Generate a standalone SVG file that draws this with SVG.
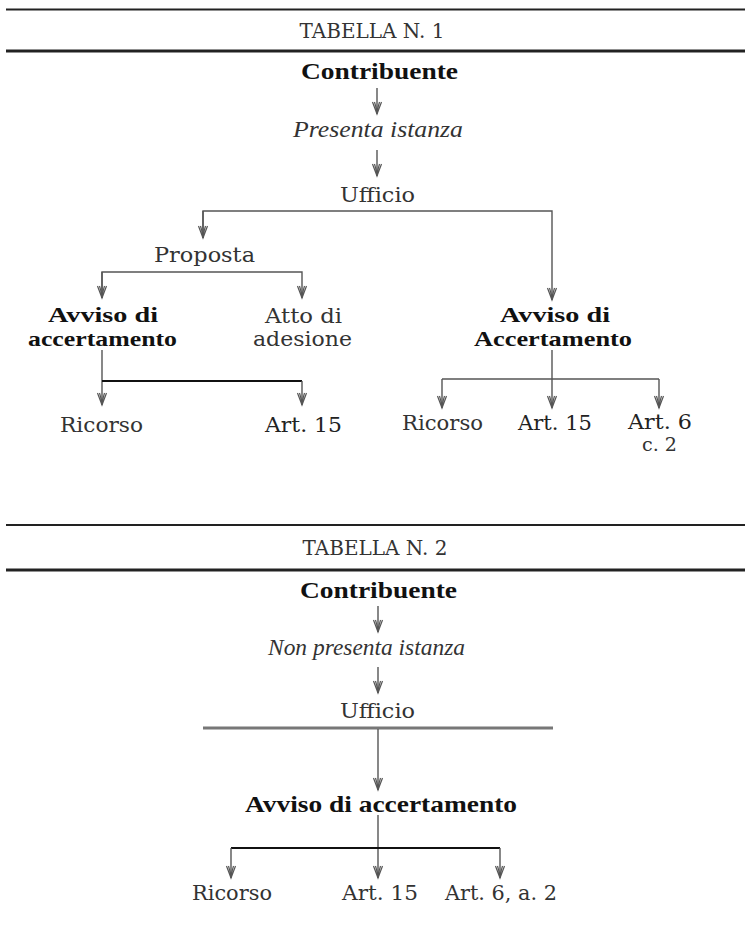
<svg xmlns="http://www.w3.org/2000/svg" width="745" height="931" viewBox="0 0 745 931">
<style>
.t{font-family:"DejaVu Serif","Liberation Serif",serif;font-size:21px;fill:#333;}
.b{font-family:"Liberation Serif","DejaVu Serif",serif;font-size:24px;font-weight:bold;fill:#111;}
.b2{font-family:"Liberation Serif","DejaVu Serif",serif;font-size:21px;font-weight:bold;fill:#111;}
.i{font-family:"Liberation Serif","DejaVu Serif",serif;font-size:23px;font-style:italic;fill:#333;}
.h{font-family:"DejaVu Serif","Liberation Serif",serif;font-size:21px;fill:#333;}
.s{font-family:"DejaVu Serif","Liberation Serif",serif;font-size:19px;fill:#333;}
.c{fill:none;stroke:#555;stroke-width:1.4;}
.k{fill:none;stroke:#111;stroke-width:2.2;}
.rule1{stroke:#222;stroke-width:2;}
.rule2{stroke:#222;stroke-width:3.2;}
</style>
<defs>
<marker id="v" markerUnits="userSpaceOnUse" markerWidth="16" markerHeight="16" viewBox="-14 -7 16 14" refX="0" refY="0" orient="auto">
<path d="M-12,-4.5 L0,0 L-12,4.5 M-12,-2.5 L-3,0 L-12,2.5" fill="none" stroke="#555" stroke-width="1.2"/>
</marker>
</defs>
<rect width="745" height="931" fill="#fff"/>

<g id="table1-header">
<line class="rule1" x1="6" y1="9.5" x2="745" y2="9.5"/>
<text class="h" x="372" y="38" text-anchor="middle" textLength="145" lengthAdjust="spacingAndGlyphs">TABELLA N. 1</text>
<line class="rule2" x1="6" y1="51" x2="745" y2="51"/>
</g>

<g id="connectors1">
<line class="c" x1="377" y1="88" x2="377" y2="114" marker-end="url(#v)"/>
<line class="c" x1="377" y1="150" x2="377" y2="176" marker-end="url(#v)"/>
<polyline class="c" points="203,238 203,211 552,211 552,300" marker-end="url(#v)"/>
<line class="c" x1="203" y1="211" x2="203" y2="238" marker-end="url(#v)"/>
<polyline class="c" points="102,298 102,272 302,272 302,298" marker-end="url(#v)"/>
<line class="c" x1="102" y1="272" x2="102" y2="298" marker-end="url(#v)"/>
<line class="c" x1="102" y1="350" x2="102" y2="405" marker-end="url(#v)"/>
<line class="k" x1="102" y1="381" x2="302" y2="381"/>
<line class="c" x1="302" y1="381" x2="302" y2="405" marker-end="url(#v)"/>
<line class="c" x1="552" y1="350" x2="552" y2="408" marker-end="url(#v)"/>
<line class="c" x1="442" y1="379" x2="659" y2="379"/>
<line class="c" x1="442" y1="379" x2="442" y2="408" marker-end="url(#v)"/>
<line class="c" x1="659" y1="379" x2="659" y2="408" marker-end="url(#v)"/>
</g>

<g id="n-contribuente1"><text class="b" x="301" y="79" textLength="157" lengthAdjust="spacingAndGlyphs">Contribuente</text></g>
<g id="n-presenta"><text class="i" x="293" y="137" textLength="170" lengthAdjust="spacingAndGlyphs">Presenta istanza</text></g>
<g id="n-ufficio1"><text class="t" x="340" y="202" textLength="75" lengthAdjust="spacingAndGlyphs">Ufficio</text></g>
<g id="n-proposta"><text class="t" x="154" y="262" textLength="101" lengthAdjust="spacingAndGlyphs">Proposta</text></g>
<g id="n-avviso1a">
<text class="b2" x="48" y="322" textLength="110" lengthAdjust="spacingAndGlyphs">Avviso di</text>
<text class="b2" x="28" y="346" textLength="149" lengthAdjust="spacingAndGlyphs">accertamento</text>
</g>
<g id="n-atto">
<text class="t" x="265" y="323" textLength="77" lengthAdjust="spacingAndGlyphs">Atto di</text>
<text class="t" x="253" y="346" textLength="99" lengthAdjust="spacingAndGlyphs">adesione</text>
</g>
<g id="n-avviso1b">
<text class="b2" x="500" y="322" textLength="110" lengthAdjust="spacingAndGlyphs">Avviso di</text>
<text class="b2" x="474" y="346" textLength="158" lengthAdjust="spacingAndGlyphs">Accertamento</text>
</g>
<g id="n-ricorso1a"><text class="t" x="60" y="432" textLength="83" lengthAdjust="spacingAndGlyphs">Ricorso</text></g>
<g id="n-art15-1a"><text class="t" x="265" y="432" textLength="77" lengthAdjust="spacingAndGlyphs" style="fill:#222">Art. 15</text></g>
<g id="n-ricorso1b"><text class="t" x="402" y="430" textLength="81" lengthAdjust="spacingAndGlyphs">Ricorso</text></g>
<g id="n-art15-1b"><text class="t" x="518" y="430" textLength="74" lengthAdjust="spacingAndGlyphs" style="fill:#222">Art. 15</text></g>
<g id="n-art6-1">
<text class="t" x="628" y="429" textLength="64" lengthAdjust="spacingAndGlyphs" style="fill:#222">Art. 6</text>
<text class="s" x="642" y="451" textLength="35" lengthAdjust="spacingAndGlyphs">c. 2</text>
</g>

<g id="table2-header">
<line class="rule1" x1="6" y1="525" x2="745" y2="525"/>
<text class="h" x="375" y="555" text-anchor="middle" textLength="145" lengthAdjust="spacingAndGlyphs">TABELLA N. 2</text>
<line class="rule2" x1="6" y1="570" x2="745" y2="570"/>
</g>

<g id="connectors2">
<line class="c" x1="378" y1="606" x2="378" y2="632" marker-end="url(#v)"/>
<line class="c" x1="378" y1="667" x2="378" y2="693" marker-end="url(#v)"/>
<line x1="203" y1="728" x2="553" y2="728" stroke="#777" stroke-width="3"/>
<line class="c" x1="378" y1="729" x2="378" y2="790" marker-end="url(#v)"/>
<line class="c" x1="378" y1="815" x2="378" y2="878" marker-end="url(#v)"/>
<line class="k" x1="231" y1="848" x2="500" y2="848"/>
<line class="c" x1="231" y1="848" x2="231" y2="878" marker-end="url(#v)"/>
<line class="c" x1="500" y1="848" x2="500" y2="878" marker-end="url(#v)"/>
</g>

<g id="n-contribuente2"><text class="b" x="300" y="598" textLength="157" lengthAdjust="spacingAndGlyphs">Contribuente</text></g>
<g id="n-nonpresenta"><text class="i" x="268" y="655" textLength="197" lengthAdjust="spacingAndGlyphs">Non presenta istanza</text></g>
<g id="n-ufficio2"><text class="t" x="340" y="718" textLength="75" lengthAdjust="spacingAndGlyphs">Ufficio</text></g>
<g id="n-avviso2"><text class="b" x="245" y="812" textLength="272" lengthAdjust="spacingAndGlyphs">Avviso di accertamento</text></g>
<g id="n-ricorso2"><text class="t" x="192" y="900" textLength="80" lengthAdjust="spacingAndGlyphs">Ricorso</text></g>
<g id="n-art15-2"><text class="t" x="342" y="900" textLength="76" lengthAdjust="spacingAndGlyphs">Art. 15</text></g>
<g id="n-art6-2"><text class="t" x="445" y="900" textLength="112" lengthAdjust="spacingAndGlyphs">Art. 6, a. 2</text></g>
</svg>
